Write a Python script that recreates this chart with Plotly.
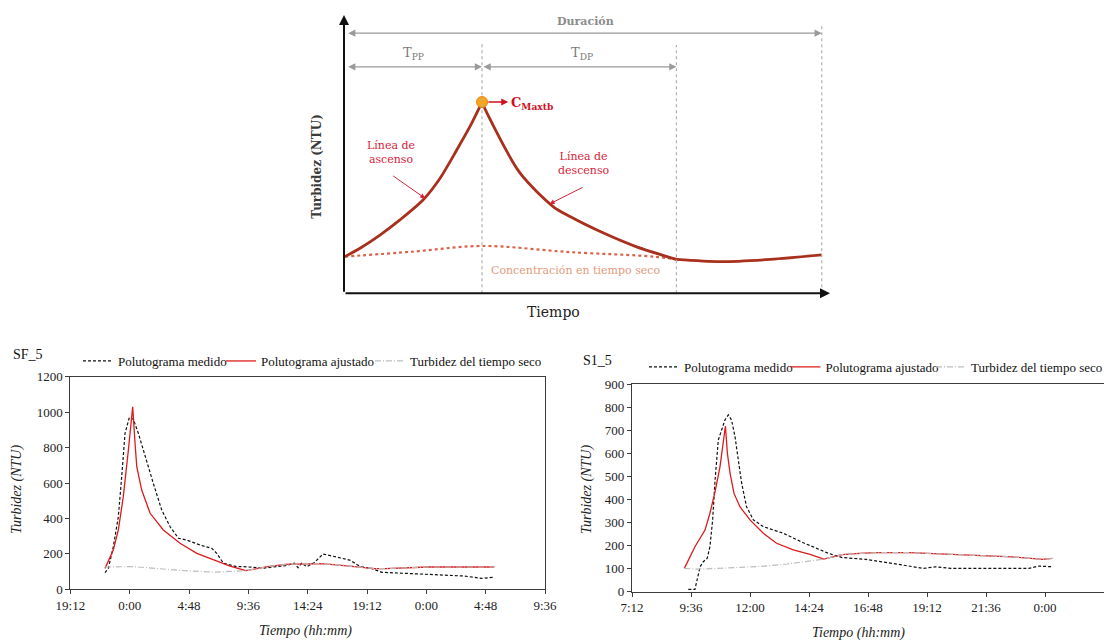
import plotly.graph_objects as go

W, H = 1104, 640
SERIF = "Liberation Serif, Tinos, Times New Roman, serif"
SCHEM = "DejaVu Serif, serif"

# ---------------- Schematic polutogram (relative units 0-100) ----------------
esq_asc_t = [0.2, 3.3, 7.4, 11.5, 16.3, 19.8, 23.2, 25.9, 28.4]
esq_asc_c = [13.1, 16.1, 20.8, 26.2, 33.4, 41.2, 51.2, 59.5, 68.3]
esq_desc_t = [28.4, 29.4, 36.2, 43.1, 46.5, 53.4, 60.2, 68.4]
esq_desc_c = [68.3, 64.4, 43.0, 30.9, 27.4, 21.5, 16.6, 12.1]
esq_cola_t = [68.4, 77.4, 87.7, 98.3]
esq_cola_c = [12.1, 11.3, 12.1, 13.7]
esq_seco_t = [0.2, 14.3, 28.4, 46.5, 63.8, 68.4]
esq_seco_c = [13.1, 14.9, 16.9, 14.7, 13.1, 12.1]
t_pico, c_pico = 28.4, 68.3
t_fin_desc = 68.4
t_fin = 98.3

# ---------------- SF_5 (hours from midnight of the first day) ----------------
sf5_med_h = [22.0, 22.27, 22.67, 23.08, 23.35, 23.62, 23.97, 24.29, 24.7, 25.24,
             25.91, 26.59, 27.27, 27.94, 28.62, 29.69, 30.64, 31.04, 31.58, 32.66,
             33.14, 34.88, 36.6, 37.33, 37.62, 37.9, 38.34, 38.92, 39.64, 40.36,
             41.8, 42.67, 43.54, 44.4, 46.13, 48.15, 49.89, 51.04, 52.48, 53.5]
sf5_med_ntu = [94, 118, 240, 410, 635, 880, 970, 960, 880, 748,
               598, 447, 353, 288, 278, 250, 231, 203, 147, 128,
               128, 120, 134, 147, 122, 147, 128, 150, 199, 188,
               165, 128, 118, 96, 90, 85, 81, 75, 62, 68]
sf5_aj_h = [22.0, 22.67, 23.08, 23.48, 23.89, 24.24, 24.43, 24.57, 24.97, 25.65,
            26.72, 28.07, 29.43, 30.77, 32.12, 33.4, 35.16, 36.6, 38.34, 39.5,
            40.94, 42.38, 43.82, 44.69, 46.42, 48.15, 53.5]
sf5_aj_ntu = [118, 222, 335, 523, 786, 1030, 824, 692, 560, 429,
              335, 260, 203, 165, 131, 105, 128, 141, 145, 145,
              137, 128, 117, 117, 122, 126, 126]
sf5_seco_h = [22.0, 24.3, 28.0, 30.8, 33.4, 35.16, 36.6, 38.34, 39.5,
              40.94, 42.38, 43.82, 44.69, 46.42, 48.15, 53.5]
sf5_seco_ntu = [126, 128, 107, 97, 105, 128, 141, 145, 145,
                137, 128, 117, 117, 122, 126, 126]
sf5_ticks = ["19:12", "0:00", "4:48", "9:36", "14:24", "19:12", "0:00", "4:48", "9:36"]

# ---------------- S1_5 (hours from midnight of the first day) ----------------
s15_med_h = [9.49, 9.76, 9.97, 10.1, 10.26, 10.37, 10.48, 10.58, 10.71, 10.85,
             10.98, 11.12, 11.25, 11.39, 11.52, 11.66, 11.86, 12.14, 12.54, 13.36,
             14.17, 15.2, 15.75, 16.72, 17.82, 18.5, 19.06, 19.54, 20.17, 23.34,
             23.75, 24.3]
s15_med_ntu = [10, 10, 108, 130, 145, 195, 310, 484, 657, 700,
               744, 766, 744, 672, 571, 470, 368, 311, 282, 253,
               212, 166, 148, 140, 122, 112, 101, 108, 101, 101,
               111, 108]
s15_aj_h = [9.33, 9.76, 10.17, 10.37, 10.58, 10.78, 11.0, 11.08, 11.19, 11.35,
            11.59, 12.0, 12.54, 13.08, 13.76, 14.44, 15.0, 15.75, 16.44, 17.13,
            18.5, 19.9, 21.27, 22.65, 23.9, 24.3]
s15_aj_ntu = [101, 195, 267, 340, 434, 542, 718, 600, 513, 426,
              368, 311, 253, 210, 181, 162, 141, 161, 166, 169,
              169, 164, 158, 151, 140, 144]
s15_seco_h = [9.33, 9.8, 10.5, 11.5, 12.5, 13.5, 14.5, 15.0, 15.75, 16.44, 17.13,
              18.5, 19.9, 21.27, 22.65, 23.9, 24.3]
s15_seco_ntu = [101, 98, 100, 104, 110, 120, 133, 141, 161, 166, 169,
                169, 164, 158, 151, 140, 144]
s15_ticks = ["7:12", "9:36", "12:00", "14:24", "16:48", "19:12", "21:36", "0:00"]

series_names = ["Polutograma medido", "Polutograma ajustado", "Turbidez del tiempo seco"]


def tick_hours(labels):
    """Turn clock labels into continuous hours, rolling over at midnight."""
    out, day, prev = [], 0, -1
    for lab in labels:
        hh, mm = lab.split(":")
        v = int(hh) + int(mm) / 60
        if v < prev:
            day += 24
        prev = v
        out.append(v + day)
    return out


sf5_tickvals = tick_hours(sf5_ticks)
s15_tickvals = tick_hours(s15_ticks)

MED = dict(color="#111111", width=1.2, dash="3px,2px")
AJ = dict(color="#dd1a1a", width=1.3)
SECO = dict(color="#bdbdbd", width=1.2, dash="6px,2px,1px,2px")
STYLES = [MED, AJ, SECO]

fig = go.Figure()

# schematic curves
RED_BROWN = "#a8301c"
fig.add_trace(go.Scatter(x=esq_seco_t, y=esq_seco_c, xaxis="x3", yaxis="y3", mode="lines",
                         line=dict(color="#d9634a", width=2.2, dash="dot", shape="spline"),
                         showlegend=False, hoverinfo="skip"))
for tx, cy in [(esq_asc_t, esq_asc_c), (esq_desc_t, esq_desc_c), (esq_cola_t, esq_cola_c)]:
    fig.add_trace(go.Scatter(x=tx, y=cy, xaxis="x3", yaxis="y3", mode="lines",
                             line=dict(color=RED_BROWN, width=2.8, shape="spline", smoothing=0.8),
                             showlegend=False, hoverinfo="skip"))
fig.add_trace(go.Scatter(x=[t_pico], y=[c_pico], xaxis="x3", yaxis="y3", mode="markers",
                         marker=dict(size=11, color="#f8a51c", line=dict(color="#e8820c", width=1)),
                         showlegend=False, hoverinfo="skip"))

# each series gets its own one-entry legend so the keys sit in a single spaced row
sf5_data = [(sf5_med_h, sf5_med_ntu), (sf5_aj_h, sf5_aj_ntu), (sf5_seco_h, sf5_seco_ntu)]
s15_data = [(s15_med_h, s15_med_ntu), (s15_aj_h, s15_aj_ntu), (s15_seco_h, s15_seco_ntu)]
legend_ids = ["legend", "legend2", "legend3", "legend4", "legend5", "legend6"]

for i, (hx, ny) in enumerate(sf5_data):
    fig.add_trace(go.Scatter(x=hx, y=ny, mode="lines", line=STYLES[i], name=series_names[i],
                             legend=legend_ids[i]))
for i, (hx, ny) in enumerate(s15_data):
    fig.add_trace(go.Scatter(x=hx, y=ny, xaxis="x2", yaxis="y2", mode="lines",
                             line=STYLES[i], name=series_names[i], legend=legend_ids[3 + i]))

tickfont = dict(family=SERIF, size=13, color="#222222")
ax_common = dict(showgrid=False, zeroline=False, showline=True, linecolor="#3c3c3c",
                 linewidth=1.3, ticks="outside", ticklen=4, tickcolor="#3c3c3c",
                 tickfont=tickfont, automargin=False)


def px(x):
    return x / W


def py(y):
    return 1 - y / H


legend_common = dict(orientation="h", xanchor="left", yanchor="middle",
                     font=dict(family=SERIF, size=13, color="#111111"),
                     bgcolor="rgba(0,0,0,0)", itemwidth=30)
# left edge of each key (page pixels) and row height
legend_x = [78, 221, 370, 644, 785.5, 931]
legend_y = [361, 361, 361, 367, 367, 367]

layout_legends = {lid: dict(x=px(lx), y=py(ly), **legend_common)
                  for lid, lx, ly in zip(legend_ids, legend_x, legend_y)}

fig.update_layout(
    width=W, height=H, margin=dict(l=0, r=0, t=0, b=0, autoexpand=False),
    paper_bgcolor="white", plot_bgcolor="white",
    xaxis=dict(domain=[px(70.4), px(545)], range=[19.2, 57.6], tickvals=sf5_tickvals,
               ticktext=sf5_ticks, mirror=True, **ax_common),
    yaxis=dict(domain=[py(589.3), py(376.7)], range=[0, 1200], dtick=200, mirror=True,
               **ax_common),
    xaxis2=dict(domain=[px(632), 1.0], range=[7.2, 26.4], tickvals=s15_tickvals,
                ticktext=s15_ticks, mirror=True, anchor="y2", **ax_common),
    yaxis2=dict(domain=[py(591.7), py(384)], range=[0, 900], dtick=100, anchor="x2",
                **ax_common),
    xaxis3=dict(domain=[px(344), px(830)], range=[0, 100], visible=False, anchor="y3"),
    yaxis3=dict(domain=[py(293.3), py(13.3)], range=[0, 100], visible=False, anchor="x3"),
    **layout_legends,
)

ann = []
serif_it = dict(family=SERIF, size=14, color="#222222", style="italic")
P = dict(xref="paper", yref="paper", showarrow=False, xanchor="center", yanchor="middle")
# panel labels and axis titles
ann.append(dict(text="SF_5", x=px(28), y=py(354),
                font=dict(family=SERIF, size=14, color="#111111"), **P))
ann.append(dict(text="S1_5", x=px(597), y=py(360),
                font=dict(family=SERIF, size=14, color="#111111"), **P))
ann.append(dict(text="Turbidez (NTU)", x=px(17), y=py(490), textangle=-90,
                font=serif_it, **P))
ann.append(dict(text="Turbidez (NTU)", x=px(587), y=py(490), textangle=-90,
                font=serif_it, **P))
ann.append(dict(text="Tiempo (hh:mm)", x=px(305), y=py(631), font=serif_it, **P))
ann.append(dict(text="Tiempo (hh:mm)", x=px(858), y=py(633), font=serif_it, **P))

# schematic axes (arrows)
S = dict(xref="x3", yref="y3", axref="x3", ayref="y3", text="", showarrow=True)
ann.append(dict(x=0, y=99.4, ax=0, ay=0, arrowhead=2, arrowsize=1, arrowwidth=2,
                arrowcolor="#111111", **S))
ann.append(dict(x=100, y=0, ax=0, ay=0, arrowhead=2, arrowsize=1, arrowwidth=2,
                arrowcolor="#111111", **S))
# duration brackets
GRAY = "#9a9a9a"
for x0, x1, yy in [(0.55, t_fin, 92.9), (0.55, t_pico, 80.9), (t_pico, t_fin_desc, 80.9)]:
    ann.append(dict(x=x1, y=yy, ax=x0, ay=yy, arrowhead=2, arrowsize=1.2, arrowwidth=1.2,
                    arrowside="end+start", arrowcolor=GRAY, **S))
# peak pointer
ann.append(dict(x=t_pico + 5.4, y=c_pico, ax=t_pico + 1.0, ay=c_pico, arrowhead=2,
                arrowsize=1, arrowwidth=1.4, arrowcolor="#d0101e", **S))
ann.append(dict(text="<b>C<sub>Maxtb</sub></b>", xref="x3", yref="y3", x=t_pico + 5.5,
                y=c_pico - 0.6, xanchor="left", yanchor="middle", showarrow=False,
                font=dict(family=SCHEM, size=13, color="#d0101e")))
# curve labels
RED_TXT = "#d8233a"
ann.append(dict(text="Línea de<br>ascenso", xref="x3", yref="y3", x=9.6, y=50.2,
                showarrow=False, font=dict(family=SCHEM, size=11, color=RED_TXT)))
ann.append(dict(x=16.7, y=33.9, ax=9.8, ay=42.3, arrowhead=2, arrowsize=1, arrowwidth=1,
                arrowcolor=RED_TXT, **S))
ann.append(dict(text="Línea de<br>descenso", xref="x3", yref="y3", x=49.4, y=46.2,
                showarrow=False, font=dict(family=SCHEM, size=11, color=RED_TXT)))
ann.append(dict(x=42.3, y=31.9, ax=49.4, ay=38.1, arrowhead=2, arrowsize=1, arrowwidth=1,
                arrowcolor=RED_TXT, **S))
ann.append(dict(text="Concentración en tiempo seco", xref="x3", yref="y3", x=47.6, y=8.3,
                showarrow=False, font=dict(family=SCHEM, size=11, color="#e39a7c")))
# bracket labels
ann.append(dict(text="<b>Duración</b>", xref="x3", yref="y3", x=49.6, y=97.0,
                showarrow=False, font=dict(family=SCHEM, size=11, color="#8c8c8c")))
ann.append(dict(text="T<sub>PP</sub>", xref="x3", yref="y3", x=14.2, y=85.7,
                showarrow=False, font=dict(family=SCHEM, size=13, color="#7a7a7a")))
ann.append(dict(text="T<sub>DP</sub>", xref="x3", yref="y3", x=48.9, y=85.7,
                showarrow=False, font=dict(family=SCHEM, size=13, color="#7a7a7a")))
# schematic axis titles (placed on the page, outside the schematic's data range)
ann.append(dict(text="<b>Turbidez (NTU)</b>", x=px(317), y=py(166.7), textangle=-90,
                font=dict(family=SCHEM, size=12, color="#3a3a3a"), **P))
ann.append(dict(text="Tiempo", x=px(553.8), y=py(311.7),
                font=dict(family=SCHEM, size=14, color="#222222"), **P))

shapes = []
for xv, ytop in [(t_pico, 89.3), (t_fin_desc, 88.7), (t_fin, 96.4)]:
    shapes.append(dict(type="line", xref="x3", yref="y3", x0=xv, x1=xv, y0=0, y1=ytop,
                       line=dict(color="#b0b0b0", width=1.2, dash="dot")))

fig.update_layout(annotations=ann, shapes=shapes)
fig.write_html("out.html")
